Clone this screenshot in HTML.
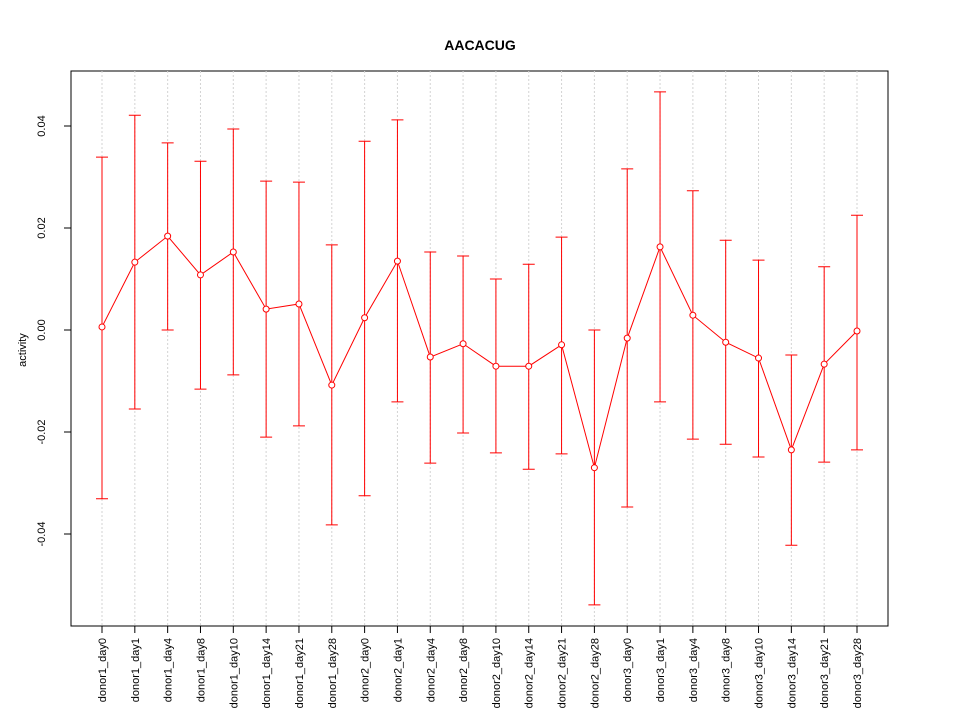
<!DOCTYPE html>
<html><head><meta charset="utf-8"><style>
body{margin:0;background:#fff}
svg{font-family:"Liberation Sans",sans-serif}
</style></head><body>
<svg id="chart" width="960" height="720">
<text x="480" y="50" text-anchor="middle" font-weight="bold" font-size="14">AACACUG</text>
<text transform="translate(26,350) rotate(-90)" text-anchor="middle" font-size="11">activity</text>
<rect x="71" y="71" width="817" height="555" fill="none" stroke="#000"/>
</svg>
<script>
const categories=["donor1_day0","donor1_day1","donor1_day4","donor1_day8","donor1_day10","donor1_day14","donor1_day21","donor1_day28","donor2_day0","donor2_day1","donor2_day4","donor2_day8","donor2_day10","donor2_day14","donor2_day21","donor2_day28","donor3_day0","donor3_day1","donor3_day4","donor3_day8","donor3_day10","donor3_day14","donor3_day21","donor3_day28"];
const values=[0.0006,0.0133,0.0184,0.0108,0.0153,0.0041,0.0051,-0.0108,0.0024,0.0135,-0.0053,-0.0027,-0.0071,-0.0071,-0.0029,-0.027,-0.0016,0.0163,0.0029,-0.0024,-0.0055,-0.0235,-0.0067,-0.0002];
const upper=[0.0339,0.0421,0.0367,0.0331,0.0394,0.0292,0.029,0.0167,0.037,0.0412,0.0153,0.0145,0.01,0.0129,0.0182,0.0,0.0316,0.0467,0.0273,0.0176,0.0137,-0.0049,0.0124,0.0225];
const lower=[-0.0331,-0.0155,0.0,-0.0116,-0.0088,-0.021,-0.0188,-0.0382,-0.0325,-0.0141,-0.0261,-0.0202,-0.0241,-0.0273,-0.0243,-0.0539,-0.0347,-0.0141,-0.0214,-0.0224,-0.0249,-0.0422,-0.0259,-0.0235];
const yTicks=[-0.04,-0.02,0.00,0.02,0.04];
const yTickLabels=["-0.04","-0.02","0.00","0.02","0.04"];

const svg=document.getElementById('chart');
const NS="http://www.w3.org/2000/svg";
const x=i=>102+i*(857-102)/(categories.length-1);
const y=v=>330-v*5100;
function mk(tag,attrs,parent){const e=document.createElementNS(NS,tag);for(const k in attrs)e.setAttribute(k,attrs[k]);(parent||svg).appendChild(e);return e;}

categories.forEach((c,i)=>{
  const g=mk('line',{x1:x(i),x2:x(i),y1:71,y2:626,stroke:'#d3d3d3','stroke-dasharray':'2,2'});
  
  
  const t=mk('line',{x1:x(i),x2:x(i),y1:626,y2:633,stroke:'#000'});
  
  
  const l=mk('text',{transform:`translate(${x(i)+4},638) rotate(-90)`,'text-anchor':'end','font-size':'11'});
  l.textContent=c;
  
  
});
yTicks.forEach((v,i)=>{
  const t=mk('line',{x1:64,x2:71,y1:y(v),y2:y(v),stroke:'#000'});
  
  
  const l=mk('text',{transform:`translate(45,${y(v)}) rotate(-90)`,'text-anchor':'middle','font-size':'11'});
  l.textContent=yTickLabels[i];
  
  
});
categories.forEach((c,i)=>{
  const e=mk('path',{d:`M${x(i)},${y(upper[i])}V${y(lower[i])}M${x(i)-6},${y(upper[i])}H${x(i)+6}M${x(i)-6},${y(lower[i])}H${x(i)+6}`,stroke:'red',fill:'none'});
  
  
});
const line=mk('polyline',{points:values.map((v,i)=>x(i)+','+y(v)).join(' '),stroke:'red',fill:'none'});


values.forEach((v,i)=>{
  const p=mk('circle',{cx:x(i),cy:y(v),r:3,stroke:'red',fill:'#fff'});
  
  
});
</script>
</body></html>
